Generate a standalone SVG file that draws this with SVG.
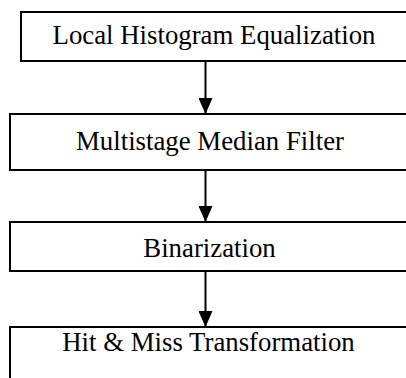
<svg xmlns="http://www.w3.org/2000/svg" width="406" height="378" viewBox="0 0 406 378">
  <defs>
    <style>
      .box { fill: #fff; stroke: #000; stroke-width: 2; }
      .lbl { font-family: "Liberation Serif", "Times New Roman", serif; font-size: 26.8px; fill: #000; text-anchor: middle; }
      .edge { stroke: #000; stroke-width: 2; fill: none; marker-end: url(#head); }
    </style>
    <marker id="head" markerUnits="userSpaceOnUse" markerWidth="16" markerHeight="14" refX="16" refY="7" orient="auto" viewBox="0 0 16 14">
      <path d="M0,0 L16,7 L0,14 Z" fill="#000"/>
    </marker>
  </defs>

  <g id="node-lhe">
    <rect class="box" x="21" y="12" width="390" height="49"/>
    <text class="lbl" x="214" y="44">Local Histogram Equalization</text>
  </g>
  <g id="node-mmf">
    <rect class="box" x="10" y="114" width="402" height="56"/>
    <text class="lbl" x="210" y="150">Multistage Median Filter</text>
  </g>
  <g id="node-bin">
    <rect class="box" x="10" y="222" width="402" height="49"/>
    <text class="lbl" x="209.5" y="257">Binarization</text>
  </g>
  <g id="node-hmt">
    <rect class="box" x="10" y="327" width="402" height="60"/>
    <text class="lbl" x="208.5" y="351">Hit &amp; Miss Transformation</text>
  </g>

  <g id="connectors">
    <line class="edge" x1="205.5" y1="61" x2="205.5" y2="114"/>
    <line class="edge" x1="205.5" y1="170" x2="205.5" y2="222"/>
    <line class="edge" x1="205.5" y1="271" x2="205.5" y2="327"/>
  </g>
</svg>
